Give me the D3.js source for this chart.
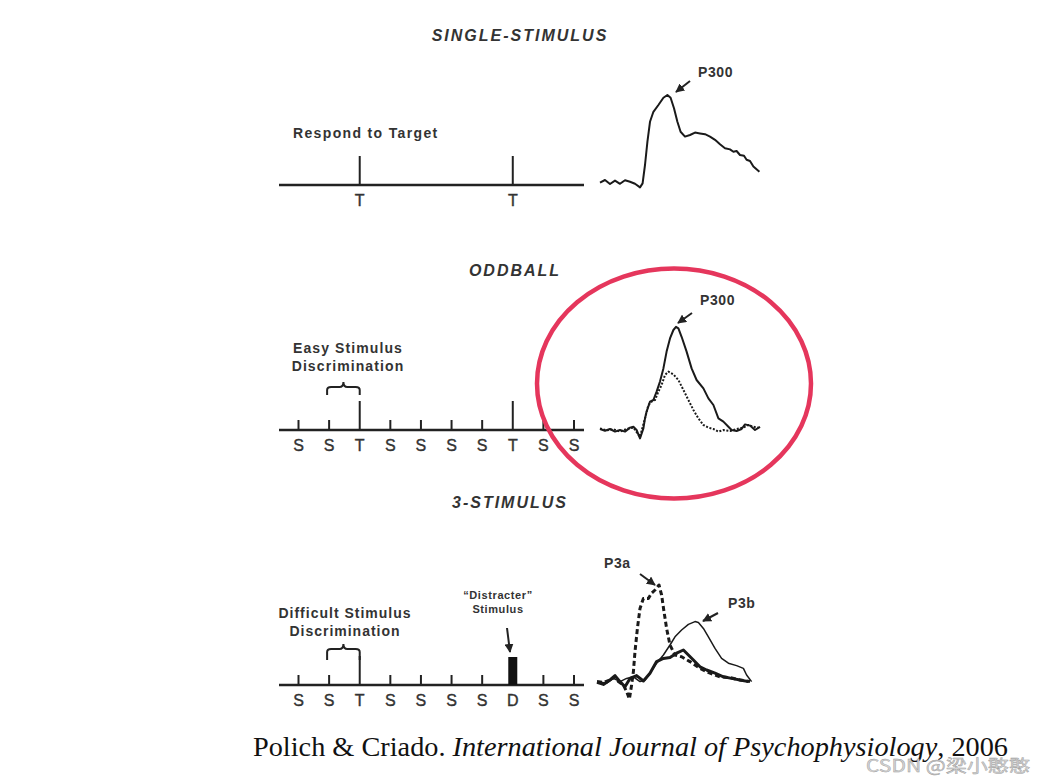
<!DOCTYPE html>
<html>
<head>
<meta charset="utf-8">
<script src="https://cdn.jsdelivr.net/npm/d3@7"></script>
<style>
body { margin: 0; background: #fff; }
text { font-family: "Liberation Sans", Arial, sans-serif; fill: #333; }
</style>
</head>
<body>
<div id="chart"></div>
<script>
// stimulus sequences (one slot per position on the time line)
var seqSingle  = ["", "", "T", "", "", "", "", "T", "", ""];
var seqOddball = ["S", "S", "T", "S", "S", "S", "S", "T", "S", "S"];
var seqThree   = ["S", "S", "T", "S", "S", "S", "S", "D", "S", "S"];

// ERP traces: [time ms, amplitude uV]
var waveSingle = [[-100,0.1],[-75,0.75],[-50,-0.25],[-25,0.6],[0,-0.2],[25,0.7],[50,0.3],[75,-0.2],[100,-1.1],[113,-0.1],
  [125,4.5],[137,10.3],[150,15.3],[167,17.8],[192,19.5],[217,21.3],[237,22],[253,21.3],[270,18.7],[287,15.3],[303,12.8],
  [325,11.6],[350,12],[375,12.6],[400,12.4],[425,12.2],[450,11.6],[475,10.8],[500,9.7],[525,8.7],[550,8.4],[567,7.8],
  [583,8],[600,7],[620,6.8],[633,5.8],[650,5.5],[667,4.1],[697,2.8]];

var waveOddTarget = [[-100,0.25],[-75,-0.2],[-50,0.25],[-25,-0.4],[0,0],[25,-0.4],[50,0.6],[67,0.8],[83,0],[100,-2.1],
  [117,0.4],[125,2.9],[133,4.6],[150,7.1],[167,7.5],[183,9.6],[200,12.1],[217,15.4],[233,19.6],[250,22.9],[267,25],
  [280,25.8],[292,25.4],[308,23.3],[333,19.6],[358,15.4],[383,12.5],[417,10.4],[442,7.9],[467,6.25],[492,2.9],[517,2.1],
  [542,0.8],[558,0],[583,-0.25],[608,0.25],[625,1.4],[650,1.1],[675,0],[700,0.8]];

var waveOddStandard = [[-100,0.4],[-67,-0.1],[-33,0.2],[0,-0.4],[33,0.25],[67,0.6],[100,-1.7],[125,2.9],[142,6.25],
  [158,7.1],[175,7.5],[192,9.6],[208,11.25],[225,13.75],[242,14.6],[267,13.9],[292,12.5],[317,10],[342,7.5],[367,5],
  [392,2.9],[417,1.25],[442,0.6],[467,0.25],[492,-0.4],[517,0],[550,-0.25],[583,0.25],[617,0.6],[642,1.25],[667,0.8],[692,0.6]];

var waveP3a = [[-100,0.1],[-68,-0.1],[-35,0.5],[-10,1.3],[7,0.1],[32,-0.75],[48,-2.4],[62,-4.25],[73,-0.75],[82,2.6],
  [90,7.6],[102,13.4],[115,18.4],[132,20.9],[157,20.9],[173,22.2],[190,23],[210,24.25],[223,21.75],[235,17.6],[248,13.4],
  [265,9.25],[290,6.75],[323,6.3],[365,5.1],[415,3.4],[465,2.2],[515,1.3],[565,1.1],[615,0.5],[665,0.1]];

var waveP3b = [[-100,0.1],[-52,-0.3],[-18,0.9],[15,0.1],[48,0.9],[82,1.3],[115,0.1],[140,0.5],[165,2.2],[198,4.7],
  [232,6.75],[265,9.25],[290,11.3],[323,13],[357,14.4],[390,15.1],[407,14.9],[432,13.4],[457,11.3],[490,8.4],[523,5.9],
  [557,4.7],[598,4.1],[632,3.4],[648,1.75],[673,0.1]];

var waveThreeStd = [[-100,-0.1],[-68,-0.6],[-35,0.5],[-10,1.6],[15,0.1],[40,-1.2],[65,0.9],[98,1.6],[132,0.25],[165,2.2],
  [198,5.1],[232,5.9],[265,6.1],[298,7.2],[332,8],[357,6.75],[382,5.5],[415,3.8],[448,3],[490,2.2],[532,1.3],[573,0.9],
  [615,0.5],[657,0.1]];

var titles = ["SINGLE-STIMULUS", "ODDBALL", "3-STIMULUS"];

var width = 1046, height = 781;

var svg = d3.select("#chart").append("svg")
    .attr("width", width)
    .attr("height", height);

svg.append("defs").append("marker")
    .attr("id", "head")
    .attr("viewBox", "0 0 10 10")
    .attr("refX", 9).attr("refY", 5)
    .attr("markerWidth", 9).attr("markerHeight", 9)
    .attr("markerUnits", "userSpaceOnUse")
    .attr("orient", "auto")
  .append("path")
    .attr("d", "M0,0L10,5L0,10z")
    .attr("fill", "#222");

// time line positions shared by all panels
var stimX = d3.scalePoint().domain(d3.range(10)).range([298.5, 574]);

var panels = [
  {title: titles[0], titleX: 520, titleY: 41, lineY: 185, seq: seqSingle, waveX0: 600, waveBase: 183},
  {title: titles[1], titleX: 515, titleY: 276, lineY: 430, seq: seqOddball, waveX0: 600, waveBase: 430},
  {title: titles[2], titleX: 510, titleY: 508, lineY: 685, seq: seqThree, waveX0: 597, waveBase: 682}
];

function drawTimeline(p) {
  var g = svg.append("g");
  g.append("text")
    .attr("x", p.titleX).attr("y", p.titleY)
    .attr("text-anchor", "middle")
    .style("font-size", "16px").style("font-weight", "bold").style("font-style", "italic")
    .style("letter-spacing", "2px")
    .text(p.title);

  g.append("line")
    .attr("x1", 279).attr("x2", 584)
    .attr("y1", p.lineY).attr("y2", p.lineY)
    .attr("stroke", "#222").attr("stroke-width", 2.5);

  var slots = p.seq.map(function(s, i) { return {s: s, i: i}; }).filter(function(d) { return d.s !== ""; });

  g.selectAll(".tick").data(slots.filter(function(d) { return d.s !== "D"; }))
    .enter().append("line")
    .attr("x1", function(d) { return stimX(d.i); })
    .attr("x2", function(d) { return stimX(d.i); })
    .attr("y1", function(d) { return p.lineY - (d.s === "T" ? 29 : 10); })
    .attr("y2", p.lineY)
    .attr("stroke", "#222").attr("stroke-width", 2);

  g.selectAll(".bar").data(slots.filter(function(d) { return d.s === "D"; }))
    .enter().append("rect")
    .attr("x", function(d) { return stimX(d.i) - 4.5; })
    .attr("y", p.lineY - 28)
    .attr("width", 9).attr("height", 28)
    .attr("fill", "#111");

  g.selectAll(".lab").data(slots)
    .enter().append("text")
    .attr("x", function(d) { return stimX(d.i); })
    .attr("y", p.lineY + 21)
    .attr("text-anchor", "middle")
    .style("font-size", "16px")
    .style("stroke", "#333").style("stroke-width", 0.4)
    .text(function(d) { return d.s; });
  return g;
}

var g1 = drawTimeline(panels[0]);
var g2 = drawTimeline(panels[1]);
var g3 = drawTimeline(panels[2]);

function label(g, x, y, lines, size, anchor, spacing) {
  var t = g.append("text")
    .attr("x", x).attr("y", y)
    .attr("text-anchor", anchor || "start")
    .style("font-size", size + "px").style("font-weight", "bold")
    .style("letter-spacing", (spacing == null ? 0.8 : spacing) + "px");
  lines.forEach(function(l, i) {
    t.append("tspan").attr("x", x).attr("dy", i ? size * 1.3 : 0).text(l);
  });
}

function brace(g, yBottom, yTop) {
  var x1 = stimX(1) - 2, x2 = stimX(2), xm = (x1 + x2) / 2;
  var ym = yTop + 5;
  g.append("path")
    .attr("d", "M" + x1 + "," + yBottom + "L" + x1 + "," + (ym + 3) +
      "Q" + x1 + "," + ym + " " + (x1 + 4) + "," + ym +
      "L" + (xm - 4) + "," + ym + "Q" + xm + "," + ym + " " + xm + "," + yTop +
      "Q" + xm + "," + ym + " " + (xm + 4) + "," + ym +
      "L" + (x2 - 4) + "," + ym + "Q" + x2 + "," + ym + " " + x2 + "," + (ym + 3) +
      "L" + x2 + "," + yBottom)
    .attr("fill", "none").attr("stroke", "#222").attr("stroke-width", 2);
}

function arrow(g, x1, y1, x2, y2, w) {
  g.append("line")
    .attr("x1", x1).attr("y1", y1).attr("x2", x2).attr("y2", y2)
    .attr("stroke", "#222").attr("stroke-width", w || 2)
    .attr("marker-end", "url(#head)");
}

label(g1, 293, 138, ["Respond to Target"], 14, "start", 1.35);
label(g2, 348, 353, ["Easy Stimulus", "Discrimination"], 14, "middle", 1.1);
brace(g2, 395, 382);
label(g3, 345, 618, ["Difficult Stimulus", "Discrimination"], 14, "middle", 1.0);
brace(g3, 660, 644);
label(g3, 498, 599, ["\u201cDistracter\u201d", "Stimulus"], 11, "middle", 0.6);
arrow(g3, 507, 628, 510, 652, 2);

// waveforms
function waveScales(p) {
  return {
    x: d3.scaleLinear().domain([-100, 700]).range([p.waveX0, p.waveX0 + 160]),
    y: d3.scaleLinear().domain([0, 25]).range([p.waveBase, p.waveBase - 100])
  };
}

function drawWave(g, sc, data, opt) {
  var line = d3.line()
    .x(function(d) { return sc.x(d[0]); })
    .y(function(d) { return sc.y(d[1]); });
  g.append("path")
    .datum(data)
    .attr("d", line)
    .attr("fill", "none")
    .attr("stroke", "#1a1a1a")
    .attr("stroke-width", opt.w)
    .attr("stroke-linejoin", "round")
    .attr("stroke-dasharray", opt.dash || null);
}

var s1 = waveScales(panels[0]);
drawWave(g1, s1, waveSingle, {w: 2});
label(g1, 698, 77, ["P300"], 14, "start", 0.6);
arrow(g1, 690, 81, 676, 92, 2);

var s2 = waveScales(panels[1]);
drawWave(g2, s2, waveOddStandard, {w: 2, dash: "2,1.6"});
drawWave(g2, s2, waveOddTarget, {w: 2});
label(g2, 700, 305, ["P300"], 14, "start", 0.6);
arrow(g2, 692, 313, 678, 323, 2);

var s3 = waveScales(panels[2]);
drawWave(g3, s3, waveThreeStd, {w: 3});
drawWave(g3, s3, waveP3b, {w: 1.5});
drawWave(g3, s3, waveP3a, {w: 3, dash: "5,3"});
label(g3, 604, 568, ["P3a"], 14, "start", 0.6);
arrow(g3, 640, 574, 655, 585, 2);
label(g3, 728, 608, ["P3b"], 14, "start", 0.6);
arrow(g3, 718, 613, 703, 621, 2);

// red highlight around the oddball waveform
svg.append("ellipse")
  .attr("cx", 674).attr("cy", 383.5)
  .attr("rx", 137).attr("ry", 115)
  .attr("fill", "none")
  .attr("stroke", "#e5365c")
  .attr("stroke-width", 4.5);

// citation
var cite = svg.append("text")
  .attr("x", 253).attr("y", 756)
  .attr("textLength", 755)
  .attr("lengthAdjust", "spacingAndGlyphs")
  .style("font-family", "'Liberation Serif', 'Times New Roman', serif")
  .style("font-size", "28px")
  .style("fill", "#111");
cite.append("tspan").text("Polich & Criado. ");
cite.append("tspan").style("font-style", "italic").text("International Journal of Psychophysiology");
cite.append("tspan").text(", 2006");

svg.append("text")
  .attr("x", 866).attr("y", 772)
  .attr("textLength", 164)
  .attr("lengthAdjust", "spacingAndGlyphs")
  .style("font-family", "'Noto Sans CJK SC', sans-serif")
  .style("font-size", "17px")
  .style("fill", "#d4d4d4")
  .style("stroke", "#9a9a9a").style("stroke-width", 0.4)
  .text("CSDN @梁小憨憨");
</script>
</body>
</html>
